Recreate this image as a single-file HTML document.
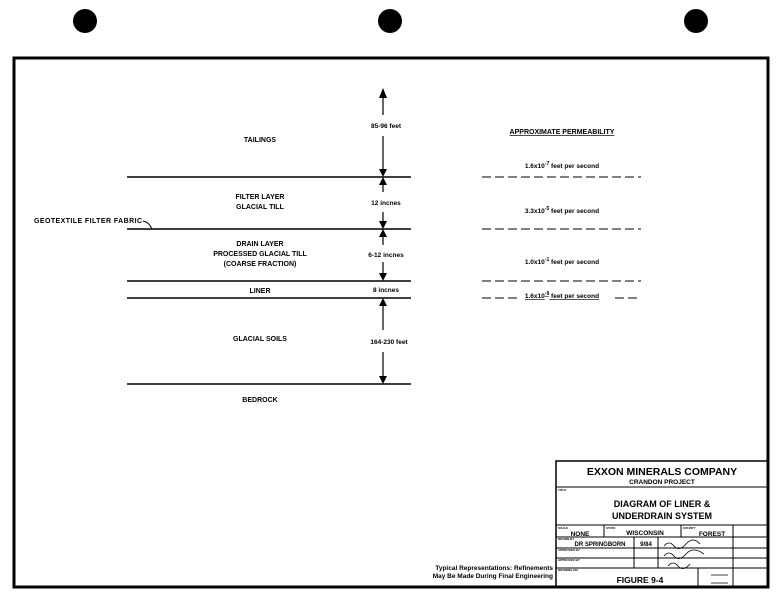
<!DOCTYPE html>
<html><head><meta charset="utf-8"><style>
body{margin:0;background:#fff;}
svg{display:block;}
text{font-family:"Liberation Sans",sans-serif;font-weight:bold;fill:#000;}
</style></head><body>
<svg width="779" height="600" viewBox="0 0 779 600" xmlns="http://www.w3.org/2000/svg">
<ellipse cx="85" cy="21" rx="12" ry="12" fill="#000"/>
<ellipse cx="390" cy="21" rx="12" ry="12" fill="#000"/>
<ellipse cx="696" cy="21" rx="12" ry="12" fill="#000"/>
<rect x="14" y="58" width="754" height="529" fill="none" stroke="#000" stroke-width="3"/>
<g stroke="#000" stroke-width="1.6">
<line x1="127" y1="177" x2="411" y2="177"/>
<line x1="127" y1="229" x2="411" y2="229"/>
<line x1="127" y1="281" x2="411" y2="281"/>
<line x1="127" y1="298" x2="411" y2="298"/>
<line x1="127" y1="384" x2="411" y2="384"/>
</g>
<g stroke="#000" stroke-width="1.2">
<line x1="383" y1="92" x2="383" y2="115"/>
<line x1="383" y1="136" x2="383" y2="172"/>
<line x1="383" y1="182" x2="383" y2="192"/>
<line x1="383" y1="212" x2="383" y2="224"/>
<line x1="383" y1="234" x2="383" y2="245"/>
<line x1="383" y1="262" x2="383" y2="276"/>
<line x1="383" y1="303" x2="383" y2="330"/>
<line x1="383" y1="352" x2="383" y2="379"/>
</g>
<g fill="#000">
<polygon points="379,98 387,98 383,88"/>
<polygon points="379,169 387,169 383,177"/>
<polygon points="379,185 387,185 383,177"/>
<polygon points="379,221 387,221 383,229"/>
<polygon points="379,237 387,237 383,229"/>
<polygon points="379,273 387,273 383,281"/>
<polygon points="379,306 387,306 383,298"/>
<polygon points="379,376 387,376 383,384"/>
</g>
<path d="M143,221 Q149,222 152,229" fill="none" stroke="#000" stroke-width="1"/>
<g stroke="#000" stroke-width="1" stroke-dasharray="9,4">
<line x1="482" y1="177" x2="641" y2="177"/>
<line x1="482" y1="229" x2="641" y2="229"/>
<line x1="482" y1="281" x2="641" y2="281"/>
<line x1="482" y1="298" x2="520" y2="298"/>
<line x1="615" y1="298" x2="641" y2="298"/>
</g>
<g font-size="7" text-anchor="middle">
<text x="260" y="142">TAILINGS</text>
<text x="260" y="199">FILTER LAYER</text>
<text x="260" y="209">GLACIAL TILL</text>
<text x="260" y="246">DRAIN LAYER</text>
<text x="260" y="256">PROCESSED GLACIAL TILL</text>
<text x="260" y="266">(COARSE FRACTION)</text>
<text x="260" y="293">LINER</text>
<text x="260" y="341">GLACIAL SOILS</text>
<text x="260" y="402">BEDROCK</text>
<text x="386" y="128" font-size="6.5">85-96 feet</text>
<text x="386" y="205" font-size="6.5">12 incnes</text>
<text x="386" y="257" font-size="6.5">6-12 incnes</text>
<text x="386" y="292" font-size="6.5">8 incnes</text>
<text x="389" y="344" font-size="6.5">164-230 feet</text>
<text x="562" y="134" text-decoration="underline">APPROXIMATE PERMEABILITY</text>
<text x="562" y="168" font-size="6.5">1.6x10<tspan dy="-3" font-size="5">-7</tspan><tspan dy="3"> feet per second</tspan></text>
<text x="562" y="213" font-size="6.5">3.3x10<tspan dy="-3" font-size="5">-5</tspan><tspan dy="3"> feet per second</tspan></text>
<text x="562" y="264" font-size="6.5">1.0x10<tspan dy="-3" font-size="5">-1</tspan><tspan dy="3"> feet per second</tspan></text>
<text x="562" y="298" font-size="6.5" text-decoration="underline">1.6x10<tspan dy="-3" font-size="5">-9</tspan><tspan dy="3"> feet per second</tspan></text>
</g>
<text x="34" y="223" font-size="7" textLength="108">GEOTEXTILE FILTER FABRIC</text>
<text x="553" y="570" font-size="6.5" text-anchor="end" font-family="Liberation Mono">Typical Representations:  Refinements</text>
<text x="553" y="578" font-size="6.5" text-anchor="end" font-family="Liberation Mono">May Be Made During Final Engineering</text>
<g stroke="#000" fill="none">
<rect x="556" y="461" width="212" height="126" stroke-width="1.5"/>
<line x1="556" y1="487" x2="768" y2="487"/>
<line x1="556" y1="525" x2="768" y2="525"/>
<line x1="556" y1="537" x2="768" y2="537"/>
<line x1="556" y1="548" x2="768" y2="548"/>
<line x1="556" y1="558" x2="768" y2="558"/>
<line x1="556" y1="568" x2="768" y2="568"/>
<line x1="604" y1="525" x2="604" y2="537"/>
<line x1="681" y1="525" x2="681" y2="537"/>
<line x1="733" y1="525" x2="733" y2="587"/>
<line x1="634" y1="537" x2="634" y2="568"/>
<line x1="658" y1="537" x2="658" y2="568"/>
<line x1="698" y1="568" x2="698" y2="587"/>
</g>
<g text-anchor="middle">
<text x="662" y="475" font-size="10.5">EXXON MINERALS COMPANY</text>
<text x="662" y="484" font-size="6.5">CRANDON PROJECT</text>
<text x="662" y="507" font-size="9">DIAGRAM OF LINER &amp;</text>
<text x="662" y="519" font-size="9">UNDERDRAIN SYSTEM</text>
<text x="580" y="536" font-size="6.5">NONE</text>
<text x="645" y="535" font-size="6.5">WISCONSIN</text>
<text x="712" y="536" font-size="6.5">FOREST</text>
<text x="600" y="546" font-size="6">DR SPRINGBORN</text>
<text x="646" y="546" font-size="6">9/84</text>
<text x="640" y="583" font-size="8.5">FIGURE 9-4</text>
</g>
<g font-size="3" font-weight="normal">
<text x="558" y="491">TITLE</text>
<text x="558" y="529">SCALE</text><text x="606" y="529">STATE</text><text x="683" y="529">COUNTY</text>
<text x="558" y="540">DRAWN BY</text><text x="558" y="551">APPROVED BY</text><text x="558" y="561">APPROVED BY</text><text x="558" y="571">DRAWING NO</text>
</g>
<g stroke="#000" stroke-width="0.8" fill="none">
<path d="M664,546 q5,-6 10,0 t12,-2 t14,0"/>
<path d="M664,556 q5,-6 10,0 t12,-2 t18,0"/>
<path d="M668,566 q5,-6 10,0 t12,-2"/>
<line x1="711" y1="575" x2="728" y2="575"/><line x1="711" y1="583" x2="728" y2="583"/>
</g>
</svg>
</body></html>
